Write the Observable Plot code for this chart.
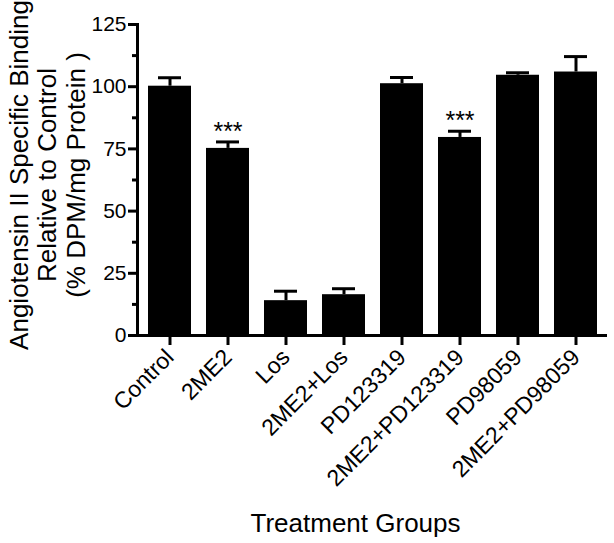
<!DOCTYPE html>
<html><head><meta charset="utf-8">
<script src="https://cdn.jsdelivr.net/npm/d3@7"></script>
<script src="https://cdn.jsdelivr.net/npm/@observablehq/plot@0.6"></script>
<style>body{margin:0;background:#fff}</style>
</head><body><div id="chart"></div>
<script>
const groups = ["Control","2ME2","Los","2ME2+Los","PD123319","2ME2+PD123319","PD98059","2ME2+PD98059"];
const means = [100.2, 75.2, 14.0, 16.4, 101.2, 79.6, 104.6, 105.9];
const errors = [3.4, 2.6, 3.8, 2.4, 2.5, 2.5, 1.0, 6.2];
const sigMarks = ["", "***", "", "", "", "***", "", ""];
const yTicks = [0, 25, 50, 75, 100, 125];
const yMinorTicks = [12.5, 37.5, 62.5, 87.5, 112.5];
const yTitleLines = ["Angiotensin II Specific Binding", "Relative to Control", "(% DPM/mg Protein )"];
const xTitle = "Treatment Groups";

const data = groups.map((g, i) => ({group: g, mean: means[i], top: means[i] + errors[i], sig: sigMarks[i]}));
const fontFamily = "'Liberation Sans', Arial, Helvetica, sans-serif";

const plot = Plot.plot({
  width: 614, height: 543,
  marginLeft: 137, marginRight: 7, marginTop: 24, marginBottom: 208,
  style: {fontFamily, background: "#fff", color: "#000"},
  x: {domain: groups, paddingInner: 0.26, paddingOuter: 0.16, label: null},
  y: {domain: [0, 125], label: null},
  marks: [
    Plot.barY(data, {x: "group", y: "mean", fill: "#000"}),
    Plot.ruleX(data, {x: "group", y1: "mean", y2: "top", stroke: "#000", strokeWidth: 3}),
    Plot.tickY(data, {x: "group", y: "top", stroke: "#000", strokeWidth: 3, insetLeft: 10, insetRight: 10}),
    Plot.text(data, {x: "group", y: "top", text: "sig", lineAnchor: "bottom", dy: -2, fontSize: 25, fill: "#000"}),
    Plot.ruleY([0], {stroke: "#000", strokeWidth: 3}),
    Plot.frame({anchor: "left", stroke: "#000", strokeWidth: 3}),
    Plot.axisY({ticks: yTicks, tickSize: 9, tickPadding: 2, fontSize: 21, stroke: "#000", strokeWidth: 3, label: null}),
    Plot.axisY({ticks: yMinorTicks, tickSize: 5, tickFormat: () => "", stroke: "#000", strokeWidth: 3, label: null}),
    Plot.axisX({tickSize: 10, tickPadding: 8, tickRotate: -45, fontSize: 23, stroke: "#000", strokeWidth: 3, label: null}),
    ...yTitleLines.map((t, i) => Plot.text([t], {text: d => d, frameAnchor: "left", textAnchor: "middle", rotate: -90, dx: -110 + 28.5 * i, dy: -5, lineAnchor: "bottom", fontSize: 26, fill: "#000"})),
    Plot.text([xTitle], {text: d => d, frameAnchor: "bottom", dy: 196, dx: -17, lineAnchor: "bottom", fontSize: 26, fill: "#000"})
  ]
});
document.getElementById("chart").appendChild(plot);
</script>
</body></html>
